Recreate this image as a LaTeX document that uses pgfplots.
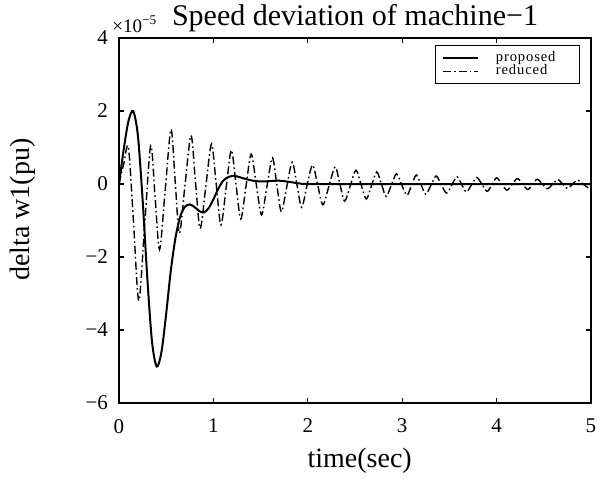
\documentclass[border=0pt]{standalone}
\usepackage{pgfplots}
\pgfplotsset{compat=1.18}
\usepackage{fontspec}
\setmainfont{Liberation Serif}
\begin{document}
\begin{tikzpicture}
\begin{axis}[
  scale only axis, clip=false,
  width=236pt, height=182.5pt,
  xmin=0, xmax=5, ymin=-6, ymax=4,
  xtick={0,1,2,3,4,5},
  ytick={-6,-4,-2,0,2,4},
  yticklabels={−6,−4,−2,0,2,4},
  /pgf/number format/assume math mode=true,
  tick label style={font=\fontsize{10.5}{12}\selectfont},
  xticklabel style={yshift=-4.5pt},
  yticklabel style={xshift=-2pt},
  major tick length=2.5pt,
  tick style={line width=0.6pt, black},
  axis line style={line width=0.8pt},
  xlabel={time(sec)},
  ylabel={delta w1(pu)},
  label style={font=\fontsize{14}{16}\selectfont},
  xlabel style={at={(axis description cs:0.51,-0.178)}, anchor=base},
  ylabel style={at={(axis description cs:-0.1886,0.53)}, anchor=base},
  every axis title shift=0pt,
  title={Speed deviation of machine−1},
  title style={font=\fontsize{15}{17}\selectfont, at={(axis description cs:0.5,1.0356)}, anchor=base},
  legend image code/.code={\draw[#1] (0pt,0pt) -- (17.5pt,0pt);},
  legend style={at={(0.9775,0.981)}, anchor=north east, draw=black, line width=0.5pt,
    font=\fontsize{7.3}{7.3}\selectfont\addfontfeatures{LetterSpace=6}, inner xsep=3.5pt, inner ysep=2.9pt,
    nodes={inner xsep=0pt, inner ysep=0pt, text height=5.1pt, text depth=1.6pt},
    /tikz/every odd column/.append style={column sep=8.3pt}},
  legend cell align=left,
]
\addplot[black, line width=1pt, smooth] coordinates {
(0,0) (0.05,0.95) (0.1,1.72) (0.15,2.0) (0.2,1.33) (0.25,-0.42) (0.3,-2.58) (0.35,-4.33)
(0.4,-5.0) (0.45,-4.6) (0.5,-3.55) (0.55,-2.35) (0.6,-1.45) (0.65,-0.88) (0.7,-0.62)
(0.75,-0.56) (0.8,-0.63) (0.85,-0.74) (0.9,-0.78) (0.95,-0.66) (1.0,-0.42) (1.05,-0.14)
(1.1,0.08) (1.15,0.18) (1.2,0.22) (1.25,0.21) (1.3,0.17) (1.4,0.1) (1.5,0.07) (1.6,0.08)
(1.7,0.09) (1.8,0.06) (1.9,0.02) (2.0,0.0) (2.5,0) (3,0) (3.5,0) (4,0) (4.5,0) (5,0)
};
\addlegendentry{\makebox[38.5pt][l]{proposed}}
\addplot[black, line width=0.7pt, smooth, dash pattern=on 4pt off 1.5pt on 0.8pt off 1.5pt] coordinates {
(0,0) (0.05,0.55) (0.1,1.0) (0.155,-1.1) (0.21,-3.2) (0.273,-1.08) (0.336,1.05) (0.383,-0.38)
(0.43,-1.8) (0.49,-0.15) (0.551,1.5) (0.595,0.08) (0.64,-1.35) (0.70,-0.01) (0.763,1.33)
(0.81,0.06) (0.86,-1.22) (0.92,-0.06) (0.98,1.1) (1.03,-0.01) (1.08,-1.12) (1.135,-0.1)
(1.19,0.93) (1.24,-0.02) (1.29,-0.96) (1.345,-0.07) (1.40,0.82) (1.455,-0.02) (1.51,-0.85)
(1.567,-0.07) (1.625,0.72) (1.672,-0.02) (1.72,-0.76) (1.777,-0.08) (1.835,0.6) (1.885,-0.02)
(1.935,-0.64) (1.99,-0.06) (2.05,0.52) (2.105,-0.03) (2.16,-0.57) (2.225,-0.05) (2.29,0.47)
(2.34,0) (2.39,-0.47) (2.45,-0.05) (2.51,0.38) (2.565,-0.02) (2.62,-0.41) (2.675,-0.04)
(2.73,0.33) (2.78,0) (2.83,-0.34) (2.885,-0.03) (2.94,0.28) (2.995,-0.02) (3.05,-0.31)
(3.10,-0.03) (3.15,0.25) (3.20,-0.02) (3.25,-0.28) (3.305,-0.03) (3.36,0.22) (3.415,-0.02)
(3.47,-0.25) (3.525,-0.03) (3.58,0.2) (3.63,-0.01) (3.68,-0.22) (3.735,-0.02) (3.79,0.18)
(3.845,-0.01) (3.90,-0.2) (3.95,-0.02) (4.00,0.17) (4.055,0) (4.11,-0.17) (4.165,-0.01)
(4.22,0.15) (4.275,0) (4.33,-0.15) (4.38,-0.01) (4.43,0.13) (4.485,0) (4.54,-0.13)
(4.595,0) (4.65,0.12) (4.70,0) (4.75,-0.12) (4.805,0) (4.86,0.11) (4.915,0) (4.97,-0.1) (5.0,-0.06)
};
\addlegendentry{\makebox[38.5pt][l]{reduced}}
\node[anchor=base west, inner sep=0pt, font=\fontsize{9.5}{11}\selectfont] at (axis description cs:-0.0148,1.016) {×10\textsuperscript{−5}};
\end{axis}
\pgfresetboundingbox
\path[use as bounding box] (-59.5pt,-38pt) rectangle (241.5pt,201.5pt);
\end{tikzpicture}
\end{document}
